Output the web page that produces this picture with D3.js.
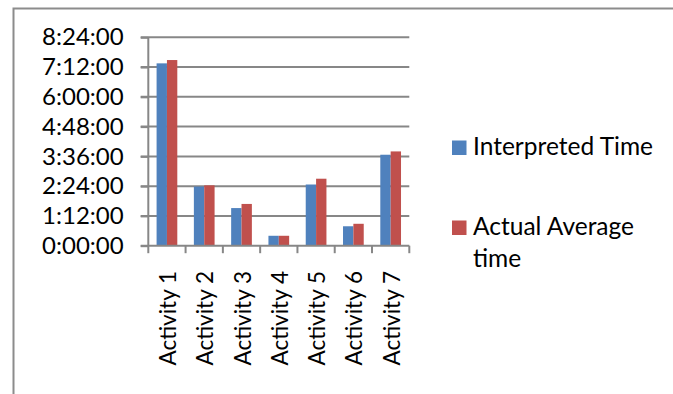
<!DOCTYPE html>
<html>
<head>
<meta charset="utf-8">
<script src="https://cdn.jsdelivr.net/npm/d3@7"></script>
<style>
  html, body { margin: 0; padding: 0; background: #fff; }
  svg { display: block; }
  text { font-family: Lato, "Open Sans", sans-serif; fill: #000; }
</style>
</head>
<body>
<svg id="chart" width="673" height="394"></svg>
<script>
// Activity durations (h:mm:ss)
const activities = ["Activity 1", "Activity 2", "Activity 3", "Activity 4", "Activity 5", "Activity 6", "Activity 7"];
const seriesNames = ["Interpreted Time", "Actual Average time"];
const interpretedTime = ["7:21:00", "2:23:00", "1:31:00", "0:24:00", "2:28:00", "0:47:00", "3:40:00"];
const actualAverageTime = ["7:29:00", "2:26:00", "1:41:00", "0:24:00", "2:42:00", "0:53:00", "3:48:00"];
const yTickLabels = ["0:00:00", "1:12:00", "2:24:00", "3:36:00", "4:48:00", "6:00:00", "7:12:00", "8:24:00"];
const seriesColors = ["#4f81bd", "#c0504d"];

const toMinutes = s => { const [h, m, sec] = s.split(":").map(Number); return h * 60 + m + sec / 60; };

const svg = d3.select("#chart");

// chart frame
svg.append("rect")
  .attr("x", 13.5).attr("y", 8.5)
  .attr("width", 720).attr("height", 420)
  .attr("fill", "none").attr("stroke", "#8c8c8c").attr("stroke-width", 2);

const yTicks = yTickLabels.map(toMinutes);
const y = d3.scaleLinear().domain([0, d3.max(yTicks)]).range([245.7, 37.3]);
const x = d3.scaleBand().domain(activities).range([148.3, 409.3]).padding(0);
const xs = d3.scaleBand().domain(seriesNames).range([0, x.bandwidth()]).paddingInner(0).paddingOuter(0.8);

// gridlines
svg.append("g").selectAll("line").data(yTicks.slice(1)).join("line")
  .attr("x1", 140.7).attr("x2", 409.3)
  .attr("y1", d => y(d)).attr("y2", d => y(d))
  .attr("stroke", "#878787").attr("stroke-width", 2);

// bars
const rows = activities.map((a, i) => ({ a, vals: [interpretedTime[i], actualAverageTime[i]].map(toMinutes) }));
const groups = svg.append("g").selectAll("g").data(rows).join("g")
  .attr("transform", d => `translate(${x(d.a)},0)`);
groups.selectAll("rect").data(d => d.vals.map((v, k) => ({ v, k }))).join("rect")
  .attr("x", d => xs(seriesNames[d.k]))
  .attr("width", xs.bandwidth())
  .attr("y", d => y(d.v))
  .attr("height", d => y(0) - y(d.v))
  .attr("fill", d => seriesColors[d.k]);

// y axis
const yAxis = d3.axisLeft(y).tickValues(yTicks).tickSize(7.6).tickPadding(17)
  .tickFormat((d, i) => yTickLabels[i]);
const gy = svg.append("g").attr("transform", "translate(148.3,0)").call(yAxis);
gy.select(".domain").attr("stroke", "#878787").attr("stroke-width", 2).attr("d", `M0,${y(d3.max(yTicks))}V${y(0)}`);
gy.selectAll(".tick line").attr("stroke", "#878787").attr("stroke-width", 2);
gy.selectAll(".tick text").attr("font-size", 24).attr("font-family", "Lato").attr("fill", "#000");

// x axis
const boundaries = activities.map(a => x(a)).concat([x.range()[1]]);
const gx = svg.append("g");
gx.append("line").attr("x1", 140.7).attr("x2", 409.3).attr("y1", y(0)).attr("y2", y(0))
  .attr("stroke", "#878787").attr("stroke-width", 2);
gx.selectAll("line.tk").data(boundaries).join("line").attr("class", "tk")
  .attr("x1", d => d).attr("x2", d => d).attr("y1", y(0)).attr("y2", y(0) + 7.5)
  .attr("stroke", "#878787").attr("stroke-width", 2);
gx.selectAll("text").data(activities).join("text")
  .attr("transform", d => `translate(${x(d) + x.bandwidth() / 2 + 9},271) rotate(-90)`)
  .attr("text-anchor", "end")
  .attr("font-size", 22.5)
  .text(d => d);

// legend
const legend = svg.append("g");
const legendRows = [
  { lines: ["Interpreted Time"], y: 155, color: seriesColors[0] },
  { lines: ["Actual Average", "time"], y: 235, color: seriesColors[1] }
];
legendRows.forEach(r => {
  legend.append("rect").attr("x", 452).attr("y", r.y - 14.5).attr("width", 14.5).attr("height", 14.5).attr("fill", r.color);
  r.lines.forEach((t, j) => {
    legend.append("text").attr("x", 473).attr("y", r.y + j * 31.5).attr("font-size", 24.5).text(t);
  });
});
</script>
</body>
</html>
